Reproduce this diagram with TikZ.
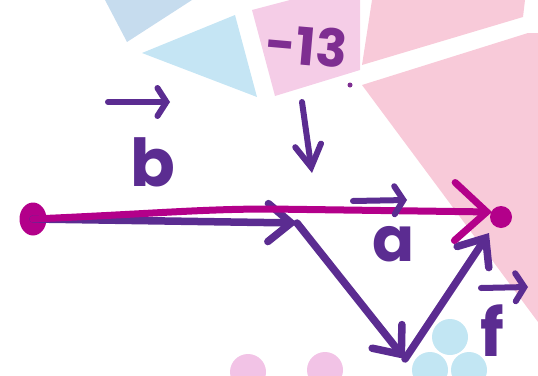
\documentclass[tikz,border=0pt]{standalone}
\usepackage{fontspec}
\setmainfont{Poppins}
\usetikzlibrary{arrows.meta,shapes.geometric}
\definecolor{vpurple}{HTML}{5B2C91}
\definecolor{vmag}{HTML}{B3008A}
\definecolor{labpurple}{HTML}{7E2E91}
\definecolor{bgblueA}{HTML}{C6DCEE}
\definecolor{bgblueB}{HTML}{C5E5F4}
\definecolor{bgpinkA}{HTML}{F5CDE7}
\definecolor{bgpinkB}{HTML}{F8CAD9}
\definecolor{dotpink}{HTML}{F2C3E6}
\definecolor{dotblue}{HTML}{C2E6F3}
\begin{document}
\begin{tikzpicture}[x=1pt,y=-1pt,
  vecline/.style={line width=7.5pt, line cap=round, line join=round},
  bigbarb/.style={-{Straight Barb[length=23pt,width=38pt,line cap=round]}},
  magbarb/.style={-{Straight Barb[length=32pt,width=58pt,line cap=round]}},
  hatarrow/.style={vpurple, line width=6pt, line cap=round, -{Straight Barb[length=9pt,width=28pt,line cap=round]}},
  lbl/.style={text=vpurple, inner sep=0pt},
]
\useasboundingbox (0,0) rectangle (538,375);
% background shapes
\fill[bgblueA] (105,0) -- (192,0) -- (127,42) -- cycle;
\fill[bgblueB] (142,53) -- (235,15) -- (257,97) -- cycle;
\fill[bgpinkA] (252,10) -- (290,0) -- (360,0) -- (360,70) -- (275,96) -- cycle;
\fill[bgpinkB] (372,0) -- (525,0) -- (523,17) -- (362,65) -- cycle;
\fill[bgpinkB] (362,85) -- (528,33) -- (538,33) -- (538,322) -- cycle;
\begin{scope}
\clip (0,0) rectangle (343,375);
\fill[dotpink] (248,372) circle (18);
\fill[dotpink] (325,370) circle (18);
\end{scope}
\fill[dotblue] (450,337) circle (18);
\fill[dotblue] (430,370) circle (18);
\fill[dotblue] (469,370) circle (18);
% points
\node[ellipse, fill=vmag, minimum width=27pt, minimum height=33pt, inner sep=0pt] (A) at (33,219) {};
\node[circle, fill=vmag, minimum size=22pt, inner sep=0pt] (C) at (501,217) {};
\coordinate (M) at (297,223);
\coordinate (D) at (405,359);
\coordinate (Cp) at (489,233);
\coordinate (Cm) at (492,212);
% purple vectors
\draw[vecline, vpurple, bigbarb] (A.center) -- (M);
\draw[vecline, vpurple, bigbarb] (M) -- (D);
\draw[vecline, vpurple, bigbarb] (D) -- (Cp);
% magenta resultant
\draw[vecline, vmag, line width=7pt, magbarb] (A.center) .. controls (150,214) and (200,209) .. (270,209) -- (Cm);
% labels
\node[lbl, font=\bfseries\fontsize{66}{66}\selectfont] (lb) at (153,162) {b};
\node[lbl, font=\bfseries\fontsize{62}{62}\selectfont] (la) at (394,244) {a};
\node[lbl, font=\bfseries\fontsize{66}{66}\selectfont] (lf) at (492,331) {f};
\node[text=labpurple, inner sep=0pt, rotate=-5, font=\bfseries\fontsize{52}{52}\selectfont] (l13) at (307,46) {-13};
\fill[labpurple] (350,85) circle (2.5);
% vector hats
\coordinate (hb1) at (108,102); \coordinate (hb2) at (170,102);
\coordinate (ha1) at (353,201); \coordinate (ha2) at (407,200);
\coordinate (hf1) at (481,288); \coordinate (hf2) at (528,287);
\draw[hatarrow] (hb1) -- (hb2);
\draw[hatarrow] (ha1) -- (ha2);
\draw[hatarrow] (hf1) -- (hf2);
\coordinate (d1) at (302,102); \coordinate (d2) at (312,173);
\draw[vpurple, line width=6pt, line cap=round, -{Straight Barb[length=22pt,width=26pt,line cap=round]}] (d1) -- (d2);
\end{tikzpicture}
\end{document}
